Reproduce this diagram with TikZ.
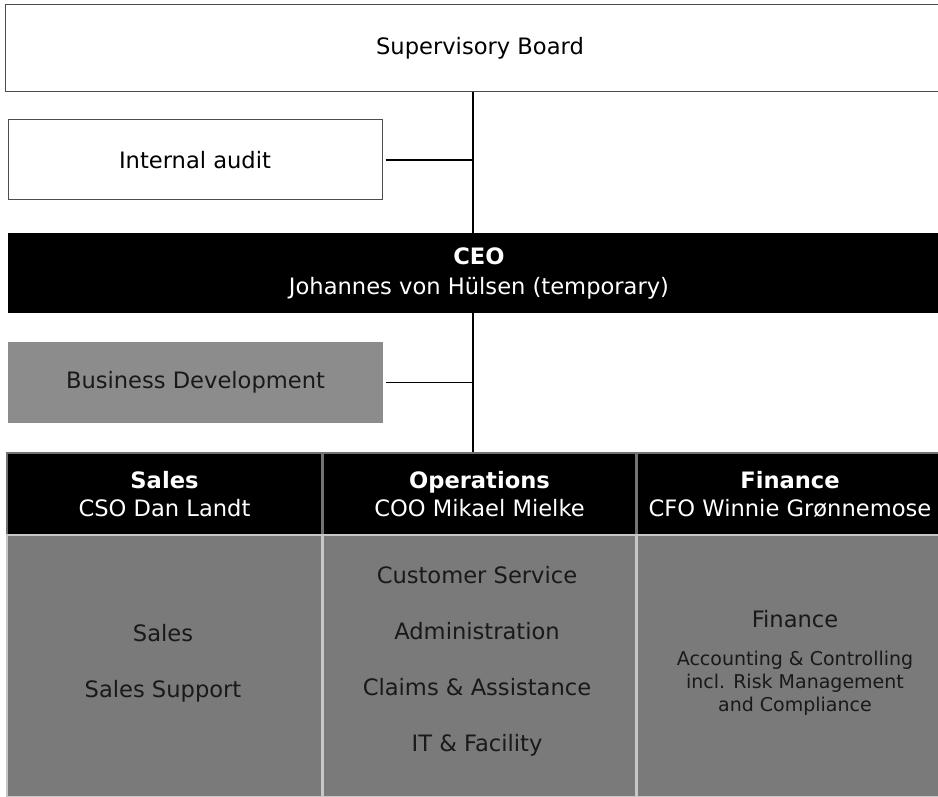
\documentclass[tikz,border=0pt]{standalone}
\usepackage{fontspec}
\setmainfont{DejaVu Sans}
\begin{document}
\begin{tikzpicture}[x=0.5pt, y=-0.5pt, font=\fontsize{11.3}{15}\selectfont,
  box/.style={rectangle, inner sep=0pt, align=center},
  open/.style={box, draw=black!70, line width=0.5pt, fill=white},
  dark/.style={box, fill=black, text=white},
  head/.style={dark, draw=black!55, line width=0.6pt, minimum height=41pt, font=\fontsize{11.3}{14}\selectfont},
  body/.style={box, fill=black!52, draw=black!22, line width=0.8pt, minimum height=131pt},
  list/.style={align=center, inner sep=0pt, text=black!90, font=\fontsize{11.3}{28}\selectfont},
  detail/.style={list, font=\fontsize{9.5}{11.5}\selectfont},
  link/.style={line width=0.9pt}]
\useasboundingbox (0,0) rectangle (938,797);
\coordinate (trunk) at (473,0);
\node[open, minimum width=475pt, minimum height=43.5pt] (board) at (480,48.5) {Supervisory Board};
\node[open, minimum width=187pt, minimum height=40pt] (audit) at (195,160) {Internal audit};
\node[dark, minimum width=471pt, minimum height=40pt] (ceo) at (479,273) {\textbf{CEO}\\Johannes von Hülsen (temporary)};
\node[box, fill=black!45, text=black!90, minimum width=187.5pt, minimum height=40.5pt] (bizdev) at (195.5,382.5) {Business Development};
\node[head, minimum width=157.5pt] (hsales) at (164.5,494) {\textbf{Sales}\\\textcolor{white!82}{CSO Dan Landt}};
\node[head, minimum width=156.5pt] (hops) at (479.5,494) {\textbf{Operations}\\\textcolor{white!82}{COO Mikael Mielke}};
\node[head, minimum width=153pt] (hfin) at (790,494) {\textbf{Finance}\\\textcolor{white!82}{CFO Winnie Grønnemose}};
\node[body, minimum width=157.5pt] (bsales) at (164.5,666) {};
\node[body, minimum width=156.5pt] (bops) at (479.5,666) {};
\node[body, minimum width=153pt] (bfin) at (790,666) {};
\node[list] (lsales) at (163,663) {Sales\\Sales Support};
\node[list] (lops) at (477,661) {Customer Service\\Administration\\Claims \& Assistance\\IT \& Facility};
\node[list] (lfin) at (795,619) {Finance};
\node[detail] (dfin) at (795,683) {Accounting \& Controlling\\incl. Risk Management\\and Compliance};
\draw[link] (board.south -| trunk) -- (ceo.north -| trunk);
\draw[link] (audit.east) ++(3,0) -- (audit.east -| trunk);
\draw[link] (ceo.south -| trunk) -- (hops.north -| trunk);
\draw[link] (bizdev.east) ++(3,0) -- (bizdev.east -| trunk);
\end{tikzpicture}
\end{document}
